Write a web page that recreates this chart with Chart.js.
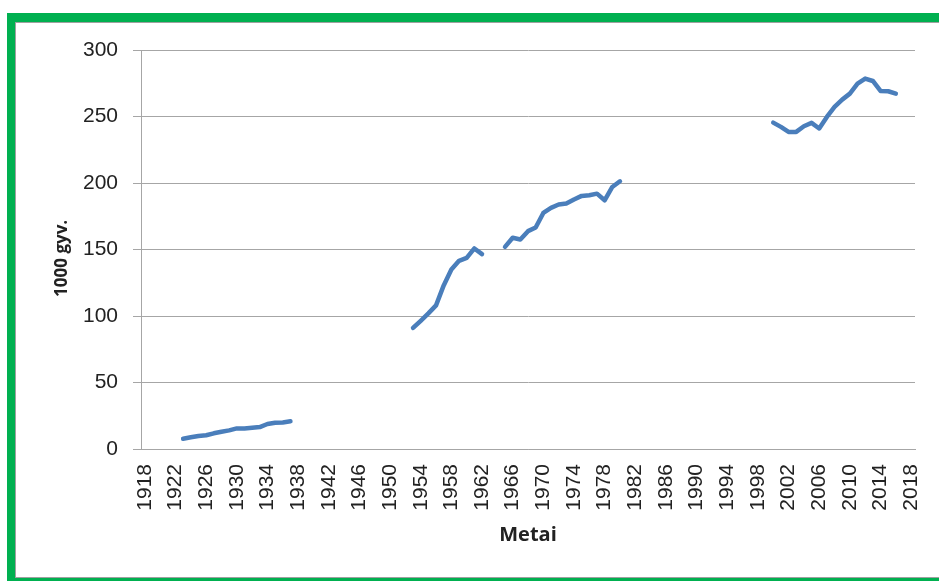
<!DOCTYPE html>
<html>
<head>
<meta charset="utf-8">
<script src="https://cdn.jsdelivr.net/npm/chart.js@4"></script>
<style>
  html, body { margin: 0; padding: 0; background: #fff; overflow: hidden; }
  #wrap { position: relative; width: 939px; height: 581px; }
  #chart { position: absolute; left: 0; top: 0; }
  #frame {
    position: absolute; left: 7px; top: 13px; width: 1000px; height: 556px;
    border: 9px solid #00b050; border-left-width: 8px;
    box-shadow: inset 1px 1px 0 0 #a0a0a0, inset -1px -1px 0 0 #a0a0a0;
    pointer-events: none;
  }
</style>
</head>
<body>
<div id="wrap">
  <canvas id="chart" width="939" height="581"></canvas>
  <div id="frame"></div>
</div>
<script>
const years = Array.from({ length: 101 }, (_, i) => 1918 + i);
const tickLabels = ['1918', '1922', '1926', '1930', '1934', '1938', '1942', '1946', '1950',
  '1954', '1958', '1962', '1966', '1970', '1974', '1978', '1982', '1986', '1990', '1994',
  '1998', '2002', '2006', '2010', '2014', '2018'];

// 1923-1937
const interwar = [7.7, 8.8, 9.8, 10.3, 11.8, 13, 14, 15.5, 15.5, 16, 16.5, 18.8, 19.8, 20, 20.8];
// 1953-1962
const postwarA = [91, 96.4, 102, 108, 123, 135, 141.5, 143.7, 150.8, 146.5];
// 1965-1980
const postwarB = [152, 158.8, 157.5, 163.8, 166.5, 177.5, 181.3, 183.8, 184.6, 187.6, 190.3,
  190.8, 192, 187, 197, 201.3];
// 2000-2016
const recent = [245.4, 242.2, 238.4, 238.4, 242.7, 245.2, 241, 249.7, 257.2, 262.7, 267.2,
  274.7, 278.5, 276.7, 269.2, 269, 267.2];

const segments = [[1923, interwar], [1953, postwarA], [1965, postwarB], [2000, recent]];
const values = years.map(() => null);
segments.forEach(([start, arr]) => {
  arr.forEach((v, i) => { values[start - 1918 + i] = v; });
});

const gridColor = '#a6a6a6';
const textColor = '#222';

// x labels read bottom-to-top, so draw them ourselves at the scale's positions
const verticalLabels = {
  id: 'verticalLabels',
  afterDraw(chart) {
    const scale = chart.scales.x;
    const ctx = chart.ctx;
    ctx.save();
    ctx.font = '21px "Liberation Sans", Arial, sans-serif';
    ctx.fillStyle = textColor;
    ctx.textAlign = 'right';
    ctx.textBaseline = 'middle';
    tickLabels.forEach((lbl) => {
      const idx = years.indexOf(Number(lbl));
      const x = scale.getPixelForValue(idx);
      ctx.save();
      ctx.translate(x, scale.top + 15);
      ctx.rotate(-Math.PI / 2);
      ctx.fillText(lbl, 0, 0);
      ctx.restore();
    });
    ctx.restore();
  },
};

new Chart(document.getElementById('chart'), {
  type: 'line',
  data: {
    labels: years,
    datasets: [{
      label: '1000 gyv.',
      data: values,
      borderColor: '#4a7ebb',
      borderWidth: 4.5,
      borderCapStyle: 'round',
      borderJoinStyle: 'round',
      pointRadius: 0,
      spanGaps: false,
      tension: 0,
    }],
  },
  options: {
    responsive: false,
    animation: false,
    events: [],
    layout: { padding: { left: 0, right: 24, top: 50, bottom: 0 } },
    plugins: { legend: { display: false }, tooltip: { enabled: false } },
    scales: {
      x: {
        type: 'category',
        offset: true,
        grid: { display: false },
        border: { display: true, color: gridColor, width: 1 },
        ticks: { display: false },
        title: {
          display: true,
          text: 'Metai',
          color: textColor,
          font: { family: '"Open Sans", sans-serif', size: 20, weight: 'bold' },
          padding: { top: 0, bottom: 33.5 },
        },
        afterFit: (s) => { s.height = 132; },
      },
      y: {
        min: 0,
        max: 300,
        ticks: {
          stepSize: 50,
          padding: 15,
          color: textColor,
          font: { family: '"Liberation Sans", Arial, sans-serif', size: 21 },
        },
        grid: { color: gridColor, lineWidth: 1, tickLength: 8, drawTicks: true },
        border: { display: true, color: gridColor, width: 1 },
        title: {
          display: true,
          text: '1000 gyv.\u00a0\u00a0\u00a0\u00a0',
          color: textColor,
          font: { family: '"Open Sans", sans-serif', size: 17, weight: 'bold' },
          padding: { top: 52, bottom: 0 },
        },
        afterFit: (s) => { s.width = 141; },
      },
    },
  },
  plugins: [verticalLabels],
});
</script>
</body>
</html>
